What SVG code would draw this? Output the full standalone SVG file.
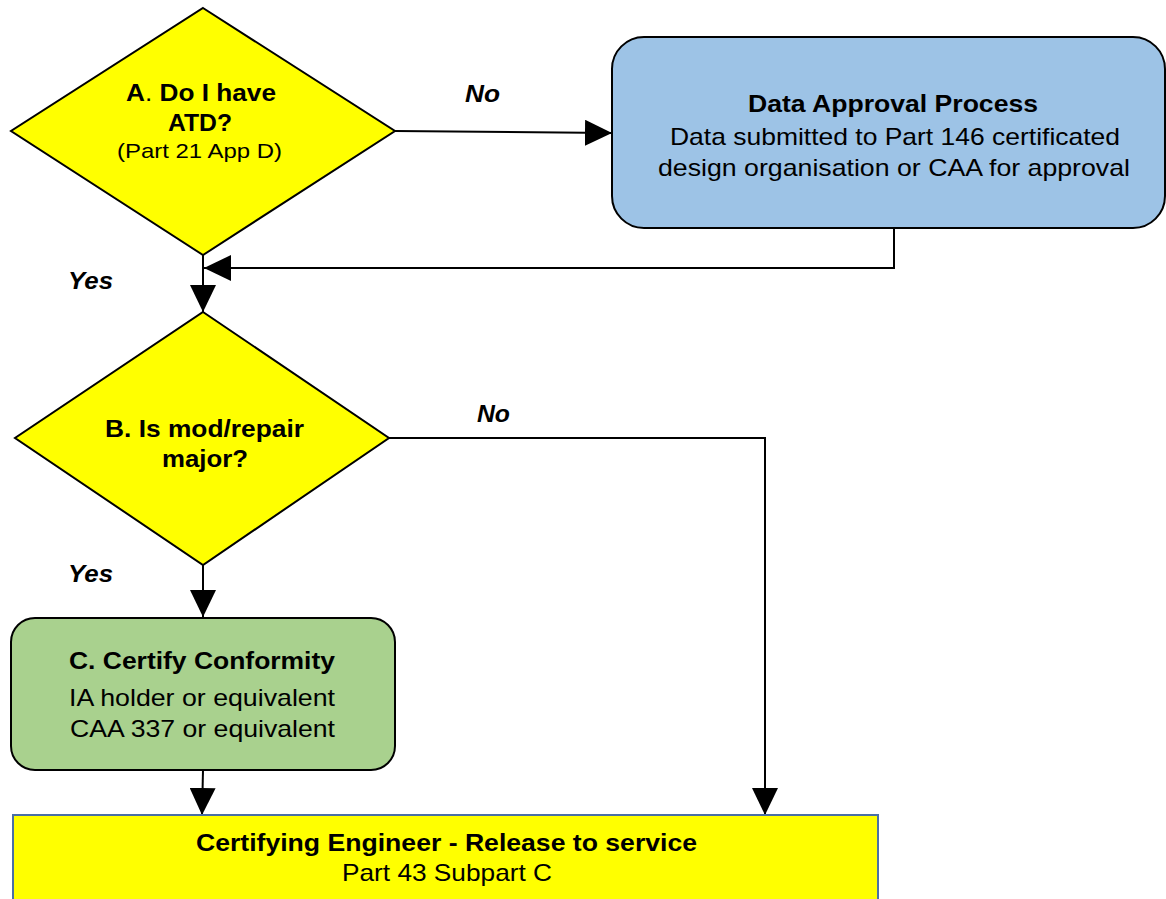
<svg xmlns="http://www.w3.org/2000/svg" width="1166" height="899" viewBox="0 0 1166 899">
<defs>
<style>
text{font-family:"Liberation Sans",Arial,sans-serif;fill:#000}
.b{font-weight:bold;font-size:24px}
.r{font-size:24px}
.s{font-size:21px}
.lbl{font-weight:bold;font-style:italic;font-size:24px}
.shape{stroke:#000;stroke-width:2}
.conn{fill:none;stroke:#000;stroke-width:2}
</style>
<marker id="ah" markerUnits="userSpaceOnUse" markerWidth="27" markerHeight="26" refX="27" refY="13" orient="auto">
<path d="M0,0 L27,13 L0,26 Z" fill="#000"/>
</marker>
</defs>
<rect width="1166" height="899" fill="#fff"/>
<g id="connectors">
<path class="conn" d="M395,131 L612,133" marker-end="url(#ah)"/>
<path class="conn" d="M894,229 L894,268 L204,268" marker-end="url(#ah)"/>
<path class="conn" d="M203,255 L203,312" marker-end="url(#ah)"/>
<path class="conn" d="M389,438 L765,438 L765,815" marker-end="url(#ah)"/>
<path class="conn" d="M203,565 L203,617" marker-end="url(#ah)"/>
<path class="conn" d="M203,770 L202,815" marker-end="url(#ah)"/>
<text class="lbl" x="465" y="102" textLength="35" lengthAdjust="spacingAndGlyphs">No</text>
<text class="lbl" x="68" y="289" textLength="45" lengthAdjust="spacingAndGlyphs">Yes</text>
<text class="lbl" x="477" y="422" textLength="33" lengthAdjust="spacingAndGlyphs">No</text>
<text class="lbl" x="68" y="582" textLength="45" lengthAdjust="spacingAndGlyphs">Yes</text>
</g>
<g id="nodeA">
<polygon class="shape" points="203,8 395,131 203,255 11,131" fill="#ffff00"/>
<text class="b" x="126" y="101" textLength="150" lengthAdjust="spacingAndGlyphs">A<tspan font-weight="normal">.</tspan> Do I have</text>
<text class="b" x="168" y="131" textLength="64" lengthAdjust="spacingAndGlyphs">ATD?</text>
<text class="s" x="117" y="158" textLength="165" lengthAdjust="spacingAndGlyphs">(Part 21 App D)</text>
</g>
<g id="nodeData">
<rect class="shape" x="612" y="37" width="553" height="191" rx="32" ry="32" fill="#9dc3e6"/>
<text class="b" x="748" y="112" textLength="290" lengthAdjust="spacingAndGlyphs">Data Approval Process</text>
<text class="r" x="670" y="145" textLength="450" lengthAdjust="spacingAndGlyphs">Data submitted to Part 146 certificated</text>
<text class="r" x="658" y="176" textLength="472" lengthAdjust="spacingAndGlyphs">design organisation or CAA for approval</text>
</g>
<g id="nodeB">
<polygon class="shape" points="203,312 389,438 203,565 15,438" fill="#ffff00"/>
<text class="b" x="105" y="437" textLength="199" lengthAdjust="spacingAndGlyphs">B. Is mod/repair</text>
<text class="b" x="162" y="467" textLength="86" lengthAdjust="spacingAndGlyphs">major?</text>
</g>
<g id="nodeC">
<rect class="shape" x="11" y="618" width="384" height="152" rx="24" ry="24" fill="#a9d18e"/>
<text class="b" x="69" y="669" textLength="266" lengthAdjust="spacingAndGlyphs">C. Certify Conformity</text>
<text class="r" x="69" y="706" textLength="266" lengthAdjust="spacingAndGlyphs">IA holder or equivalent</text>
<text class="r" x="70" y="737" textLength="265" lengthAdjust="spacingAndGlyphs">CAA 337 or equivalent</text>
</g>
<g id="nodeRelease">
<rect x="13" y="815" width="865" height="110" fill="#ffff00" stroke="#4a6fa5" stroke-width="2"/>
<text class="b" x="196" y="851" textLength="501" lengthAdjust="spacingAndGlyphs">Certifying Engineer - Release to service</text>
<text class="r" x="342" y="881" textLength="210" lengthAdjust="spacingAndGlyphs">Part 43 Subpart C</text>
</g>
</svg>
